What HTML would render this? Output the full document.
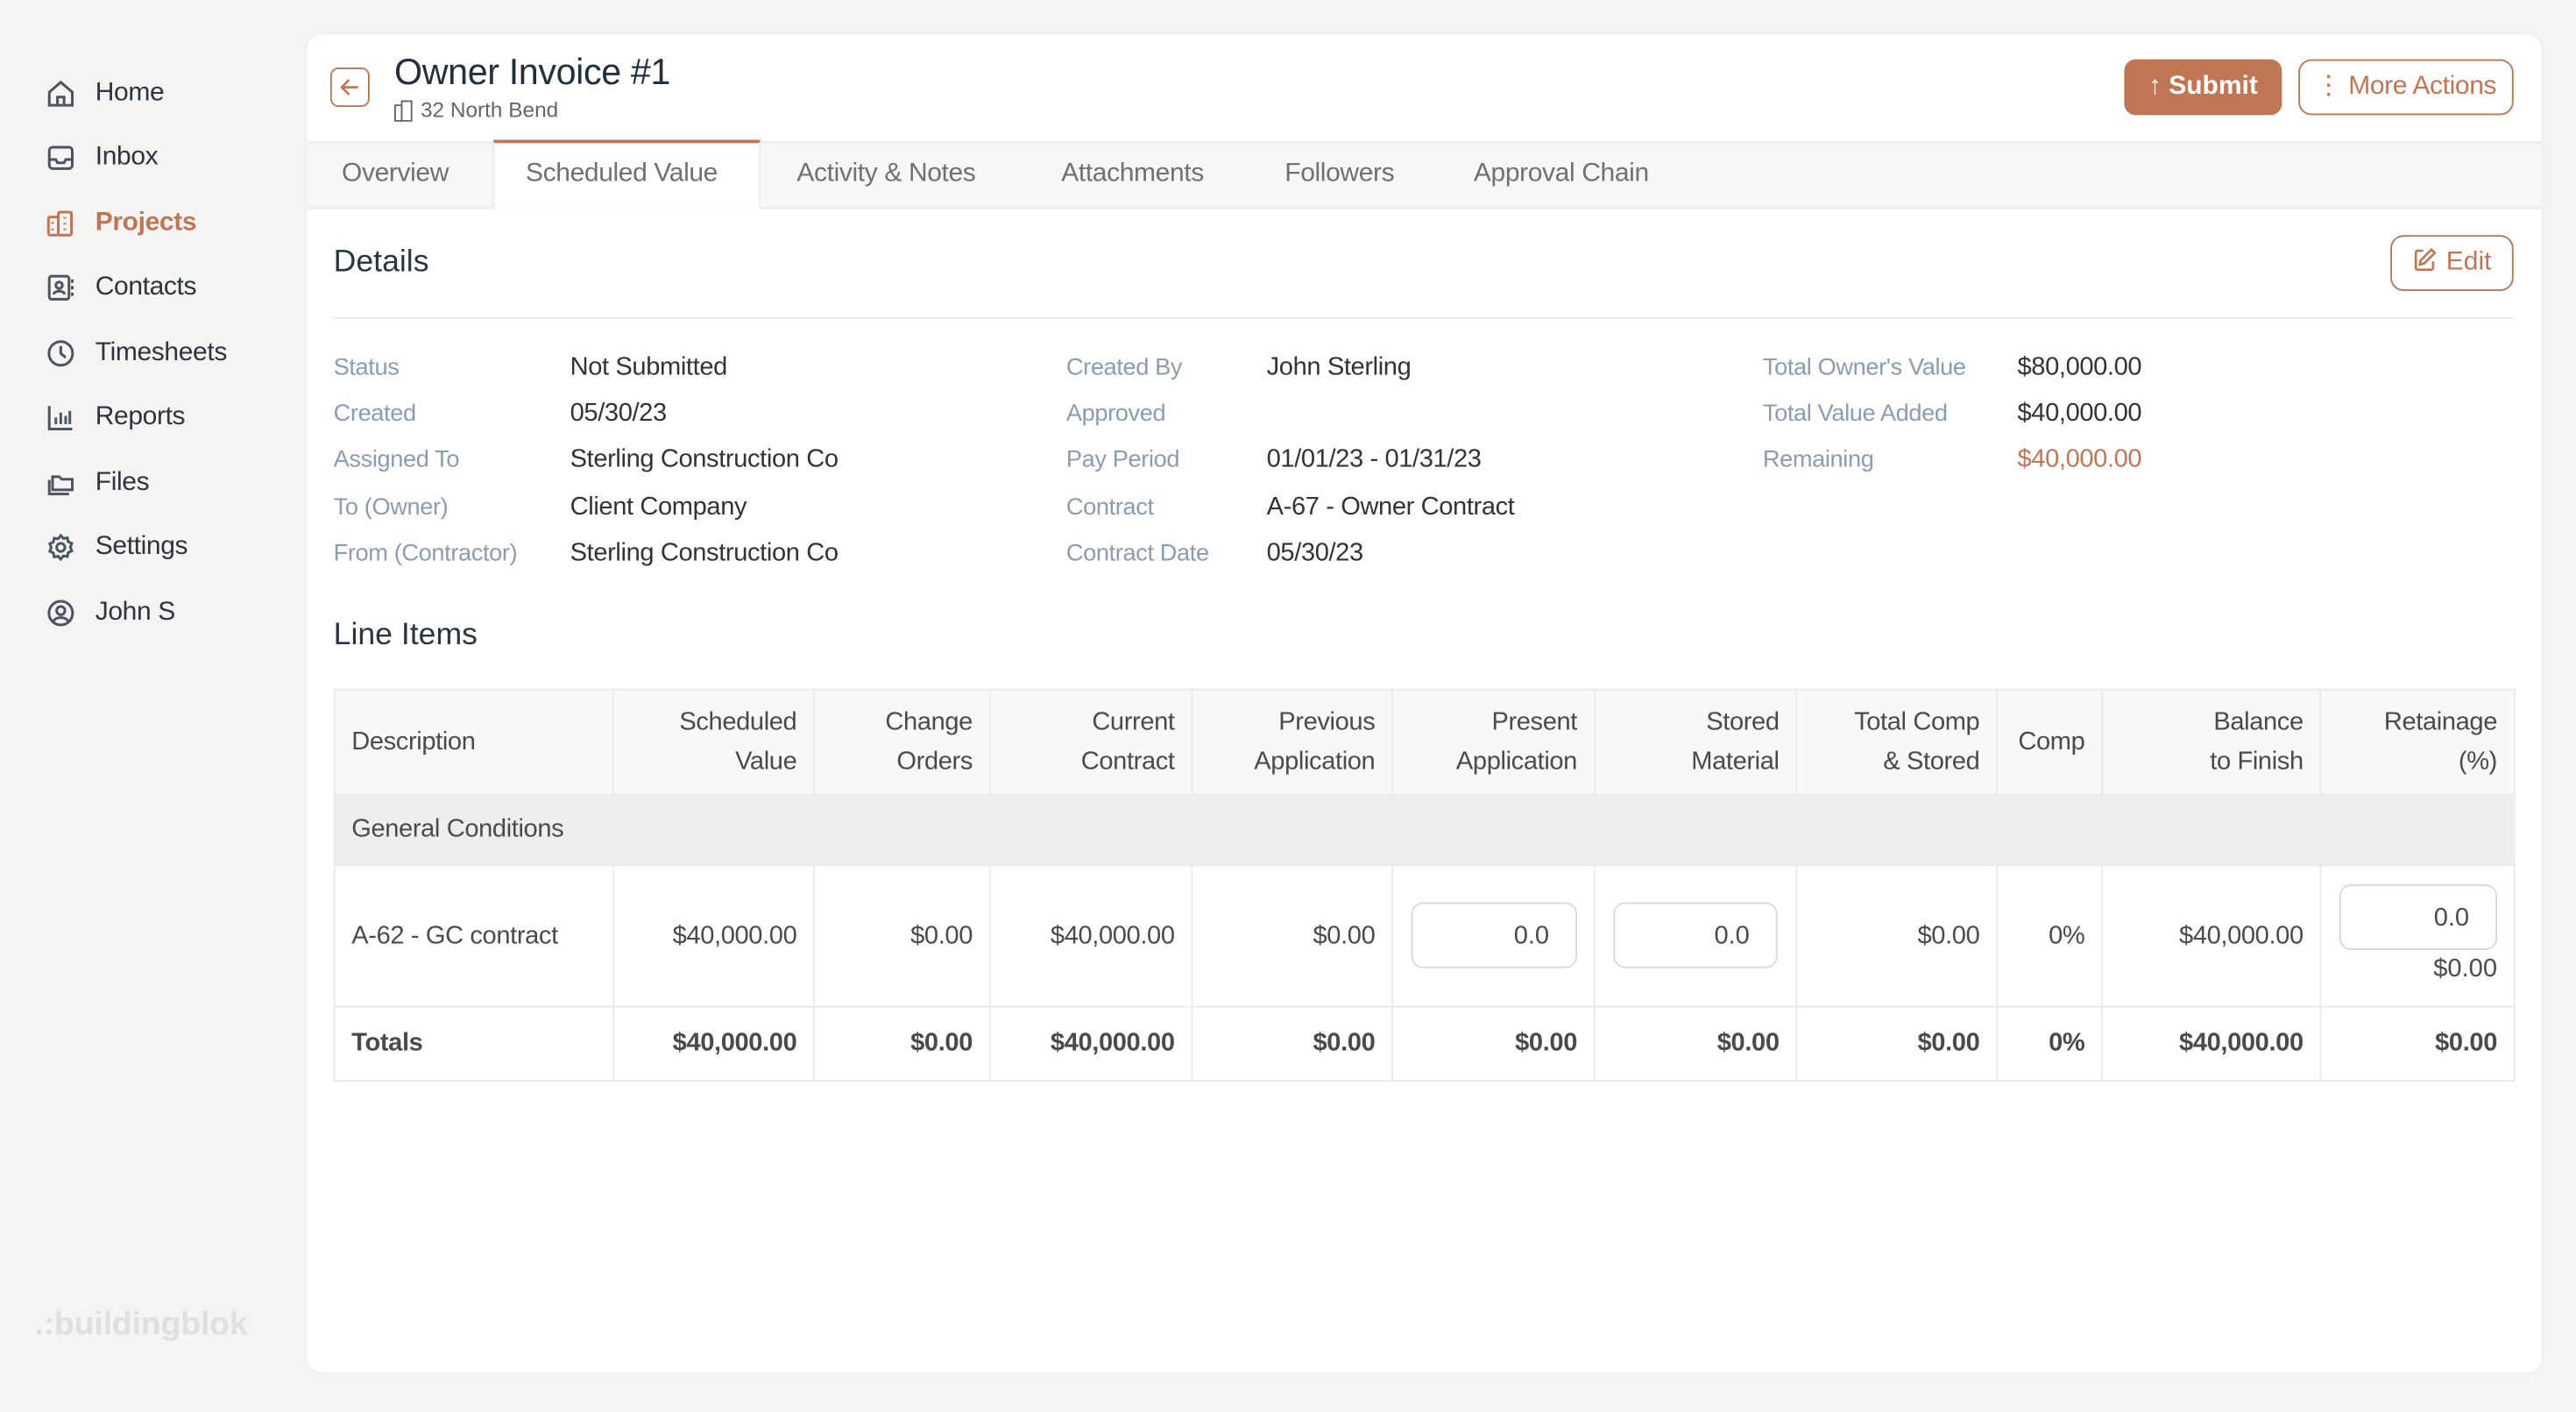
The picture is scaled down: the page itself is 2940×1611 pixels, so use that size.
<!DOCTYPE html>
<html><head><meta charset="utf-8"><style>
html,body{margin:0;padding:0;background:#f5f4f2;overflow:hidden}
body{width:2940px;height:1608px}
#s{position:absolute;left:0;top:2px;width:1568px;height:858px;transform:scale(1.875);transform-origin:0 0;font-family:"Liberation Sans",sans-serif;color:#2c3440}
.a{position:absolute;white-space:nowrap}
.nav{position:absolute;left:28px;width:140px;white-space:nowrap;height:20px;line-height:20px;font-size:16px;color:#2c3440}
.nav svg{position:absolute;left:0;top:1px;width:18px;height:18px;fill:none;stroke:#4a5561;stroke-width:1.6}
.nav span{position:absolute;left:30px;top:0;letter-spacing:-0.2px}
#card{position:absolute;left:187px;top:20px;width:1360px;height:814px;background:#fff;border-radius:9px;box-shadow:0 0 4px rgba(0,0,0,0.04)}
.tab{position:absolute;top:96px;font-size:16px;color:#707070;line-height:20px;letter-spacing:-0.2px}
.lb{position:absolute;font-size:14.5px;color:#8b9bb0;line-height:20px;letter-spacing:-0.2px}
.vl{position:absolute;font-size:15.5px;color:#333;line-height:20px;letter-spacing:-0.2px}
table{position:absolute;left:203px;top:418px;border-collapse:collapse;table-layout:fixed;font-size:15.5px;color:#4a4a4a;letter-spacing:-0.2px}
td{border:1px solid #ebe9e6;padding:0 10px;text-align:right;white-space:nowrap;position:relative}
td.l{text-align:left}
tr.h td{background:#f9f8f6;height:63px;line-height:24px;color:#4a4a4a}
tr.g td{background:#efeeed;height:42px}
tr.d td{height:85px}
tr.t td{height:44px;font-weight:bold}
.inp{position:absolute;border:1px solid #d9d9d9;border-radius:7px;height:40px;line-height:40px;text-align:right;padding-right:16px;box-sizing:border-box;background:#fff}
</style></head><body><div id="s">

<div class="nav" style="top:46px"><svg viewBox="0 0 18 18"><path d="M2 8 L9 2 L16 8 V16 H2 Z M7 16 V11 H11 V16"/></svg><span>Home</span></div>
<div class="nav" style="top:85px"><svg viewBox="0 0 18 18"><rect x="2" y="2.5" width="14" height="13" rx="2"/><path d="M2 10 H6 L7 12 H11 L12 10 H16"/></svg><span>Inbox</span></div>
<div class="nav" style="top:125px;color:#c07655"><svg viewBox="0 0 18 18" style="stroke:#c07655"><rect x="1.5" y="5" width="6" height="11" rx="1"/><rect x="7.5" y="2" width="8" height="14" rx="1"/><path d="M4 8v1M4 12v1M11.5 5v1M11.5 8.5v1M11.5 12v1"/></svg><span style="font-weight:bold">Projects</span></div>
<div class="nav" style="top:164px"><svg viewBox="0 0 18 18"><rect x="2" y="2" width="12" height="14" rx="1.5"/><circle cx="8" cy="7.5" r="2"/><path d="M4.5 13c1-2.5 6-2.5 7 0M16 4v2M16 8v2M16 12v2"/></svg><span>Contacts</span></div>
<div class="nav" style="top:204px"><svg viewBox="0 0 18 18"><circle cx="9" cy="9" r="7.2"/><path d="M9 4.5V9L12 11.5"/></svg><span>Timesheets</span></div>
<div class="nav" style="top:243px"><svg viewBox="0 0 18 18"><path d="M2 2V16H16M6 13V9M9 13V6M12 13V8M14.5 13V5"/></svg><span>Reports</span></div>
<div class="nav" style="top:283px"><svg viewBox="0 0 18 18"><path d="M4 5H8L9.5 6.5H16V13H4Z M2 7V15.5H14"/></svg><span>Files</span></div>
<div class="nav" style="top:322px"><svg viewBox="0 0 18 18"><circle cx="9" cy="9" r="2.5"/><path d="M9 1.8l1.6 1.8 2.4-.4.5 2.4 2.2 1-.9 2.3.9 2.3-2.2 1-.5 2.4-2.4-.4L9 16.2l-1.6-1.8-2.4.4-.5-2.4-2.2-1 .9-2.3-.9-2.3 2.2-1 .5-2.4 2.4.4z"/></svg><span>Settings</span></div>
<div class="nav" style="top:362px"><svg viewBox="0 0 18 18"><circle cx="9" cy="9" r="7.2"/><circle cx="9" cy="7.5" r="2.5"/><path d="M4.5 14c1.5-3 7.5-3 9 0"/></svg><span>John S</span></div>

<div class="a" style="left:21px;top:794px;font-size:20px;font-weight:bold;color:#e0dfdd;letter-spacing:-0.1px">.:buildingblok</div>

<div id="card"></div>
<div class="a" style="left:201px;top:40px;width:22px;height:22px;border:1.3px solid #c07655;border-radius:5px"></div>
<svg class="a" style="left:205px;top:44px" width="16" height="16" viewBox="0 0 16 16"><path d="M13 8H3M7.5 3.5L3 8l4.5 4.5" fill="none" stroke="#c07655" stroke-width="1.4"/></svg>
<div class="a" style="left:240px;top:30px;font-size:22px;line-height:26px;color:#22303e;letter-spacing:-0.2px">Owner Invoice #1</div>
<svg class="a" style="left:240px;top:60px" width="12" height="13" viewBox="0 0 12 13"><rect x="0.5" y="3" width="4" height="9.5" fill="none" stroke="#666"/><rect x="4.5" y="0.5" width="6" height="12" fill="none" stroke="#666"/></svg>
<div class="a" style="left:256px;top:58px;font-size:13px;line-height:16px;color:#666">32 North Bend</div>

<div class="a" style="left:1293px;top:35px;width:96px;height:34px;background:#c07655;border-radius:7px;color:#fff;font-size:16px;font-weight:bold;line-height:34px;text-align:center">↑ Submit</div>
<div class="a" style="left:1399px;top:35px;width:129px;height:32px;border:1.3px solid #c07655;border-radius:8px;color:#c07655;font-size:16px;line-height:32px;text-align:center;letter-spacing:-0.2px">⋮ More Actions</div>

<div class="a" style="left:187px;top:85px;width:1360px;height:39px;background:#f8f7f5;border-top:1px solid #eceae7;border-bottom:1px solid #eceae7"></div>
<div class="a" style="left:300px;top:84px;width:163px;height:42px;background:#fff;border-top:2px solid #c07655;border-left:1px solid #eceae7;border-right:1px solid #eceae7;box-sizing:border-box"></div>
<div class="tab" style="left:208px;top:95px">Overview</div>
<div class="tab" style="left:320px;top:95px">Scheduled Value</div>
<div class="tab" style="left:485px;top:95px">Activity &amp; Notes</div>
<div class="tab" style="left:646px;top:95px">Attachments</div>
<div class="tab" style="left:782px;top:95px">Followers</div>
<div class="tab" style="left:897px;top:95px">Approval Chain</div>

<div class="a" style="left:203px;top:147px;font-size:19px;line-height:24px;color:#2c3440">Details</div>
<div class="a" style="left:1455px;top:142px;width:73px;height:32px;border:1.3px solid #c07655;border-radius:8px;color:#c07655;font-size:16px;line-height:32px;text-align:center"><svg width="16" height="16" viewBox="0 0 16 16" style="vertical-align:-2px"><path d="M7 2.5H3.5a1 1 0 0 0-1 1V13a1 1 0 0 0 1 1H12a1 1 0 0 0 1-1V9M12 1.8l2 2-6.5 6.5-2.6.6.6-2.6z" fill="none" stroke="#c07655" stroke-width="1.4"/></svg> Edit</div>
<div class="a" style="left:203px;top:192px;width:1327px;height:1px;background:#ebe9e6"></div>

<div class="lb" style="left:203px;top:213px">Status</div><div class="vl" style="left:347px;top:213px">Not Submitted</div>
<div class="lb" style="left:203px;top:241px">Created</div><div class="vl" style="left:347px;top:241px">05/30/23</div>
<div class="lb" style="left:203px;top:269px">Assigned To</div><div class="vl" style="left:347px;top:269px">Sterling Construction Co</div>
<div class="lb" style="left:203px;top:298px">To (Owner)</div><div class="vl" style="left:347px;top:298px">Client Company</div>
<div class="lb" style="left:203px;top:326px">From (Contractor)</div><div class="vl" style="left:347px;top:326px">Sterling Construction Co</div>

<div class="lb" style="left:649px;top:213px">Created By</div><div class="vl" style="left:771px;top:213px">John Sterling</div>
<div class="lb" style="left:649px;top:241px">Approved</div>
<div class="lb" style="left:649px;top:269px">Pay Period</div><div class="vl" style="left:771px;top:269px">01/01/23 - 01/31/23</div>
<div class="lb" style="left:649px;top:298px">Contract</div><div class="vl" style="left:771px;top:298px">A-67 - Owner Contract</div>
<div class="lb" style="left:649px;top:326px">Contract Date</div><div class="vl" style="left:771px;top:326px">05/30/23</div>

<div class="lb" style="left:1073px;top:213px">Total Owner's Value</div><div class="vl" style="left:1228px;top:213px">$80,000.00</div>
<div class="lb" style="left:1073px;top:241px">Total Value Added</div><div class="vl" style="left:1228px;top:241px">$40,000.00</div>
<div class="lb" style="left:1073px;top:269px">Remaining</div><div class="vl" style="left:1228px;top:269px;color:#c07655">$40,000.00</div>

<div class="a" style="left:203px;top:374px;font-size:19px;line-height:24px;color:#2c3440">Line Items</div>

<table>
<colgroup><col style="width:170px"><col style="width:122px"><col style="width:107px"><col style="width:123px"><col style="width:122px"><col style="width:123px"><col style="width:123px"><col style="width:122px"><col style="width:64px"><col style="width:133px"><col style="width:118px"></colgroup>
<tr class="h"><td class="l">Description</td><td>Scheduled<br>Value</td><td>Change<br>Orders</td><td>Current<br>Contract</td><td>Previous<br>Application</td><td>Present<br>Application</td><td>Stored<br>Material</td><td>Total Comp<br>&amp; Stored</td><td>Comp</td><td>Balance<br>to Finish</td><td>Retainage<br>(%)</td></tr>
<tr class="g"><td class="l" colspan="11">General Conditions</td></tr>
<tr class="d"><td class="l">A-62 - GC contract</td><td>$40,000.00</td><td>$0.00</td><td>$40,000.00</td><td>$0.00</td><td></td><td></td><td>$0.00</td><td>0%</td><td>$40,000.00</td><td></td></tr>
<tr class="t"><td class="l">Totals</td><td>$40,000.00</td><td>$0.00</td><td>$40,000.00</td><td>$0.00</td><td>$0.00</td><td>$0.00</td><td>$0.00</td><td>0%</td><td>$40,000.00</td><td>$0.00</td></tr>
</table>
<div class="inp a" style="left:859px;top:548px;width:101px;font-size:15.5px;color:#4a4a4a">0.0</div>
<div class="inp a" style="left:982px;top:548px;width:100px;font-size:15.5px;color:#4a4a4a">0.0</div>
<div class="inp a" style="left:1424px;top:537px;width:96px;font-size:15.5px;color:#4a4a4a">0.0</div>
<div class="a" style="left:1420px;top:579px;width:100px;text-align:right;font-size:15.5px;line-height:20px;color:#4a4a4a">$0.00</div>

</div></body></html>
